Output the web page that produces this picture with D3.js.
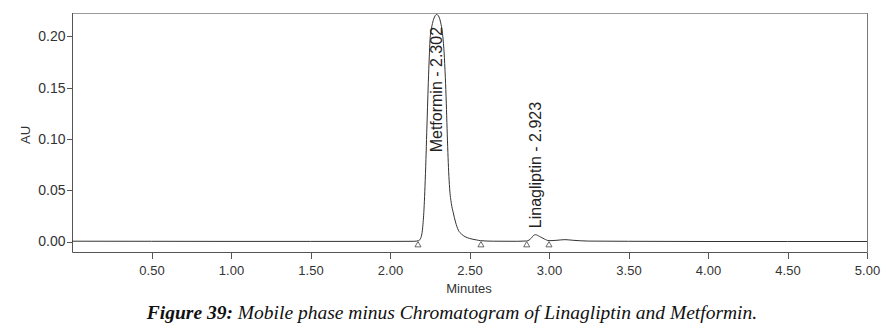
<!DOCTYPE html>
<html><head><meta charset="utf-8">
<script src="https://cdn.jsdelivr.net/npm/d3@7"></script>
<style>body{margin:0;background:#fff}svg{display:block}</style>
</head><body>
<svg id="c" width="890" height="332"></svg>
<script>
// ---- data ----
const traceTime = [0.00,0.50,1.00,1.50,2.00,2.15,2.18,2.195,2.206,2.215,2.220,2.226,2.231,2.236,2.241,2.247,2.252,2.260,2.269,2.280,2.293,2.305,2.318,2.330,2.340,2.348,2.354,2.359,2.364,2.369,2.375,2.386,2.398,2.412,2.430,2.450,2.472,2.500,2.545,2.570,2.650,2.800,2.860,2.890,2.905,2.915,2.940,2.970,3.000,3.050,3.100,3.150,3.250,3.500,4.000,4.500,5.000];
const traceAU   = [0.0003,0.0002,0.0001,0.0001,0.0001,0.0002,0.0008,0.004,0.0144,0.035,0.0535,0.080,0.106,0.131,0.155,0.180,0.197,0.207,0.214,0.219,0.2215,0.220,0.214,0.203,0.185,0.160,0.135,0.110,0.087,0.068,0.052,0.037,0.028,0.019,0.011,0.0072,0.0047,0.0030,0.0015,0.0008,0.0003,0.0002,0.0005,0.0035,0.0062,0.0066,0.005,0.0025,0.0008,0.0012,0.0018,0.0012,0.0004,0.0002,0.0000,0.0000,0.0000];
const peakMarkers = [2.176, 2.572, 2.860, 3.000];
const peakLabels = ["Metformin - 2.302", "Linagliptin - 2.923"];
const peakLabelTimes = [2.302, 2.923];
const peakLabelStartAU = [0.087, 0.013];
const xTicks = [0.5,1.0,1.5,2.0,2.5,3.0,3.5,4.0,4.5,5.0];
const xMinor = d3.range(0.1, 5.0001, 0.1);
const yTicks = [0.00,0.05,0.10,0.15,0.20];
const yMinor = d3.range(0, 0.2225, 0.01);
const xTitle = "Minutes";
const yTitle = "AU";
const captionBold = "Figure 39:";
const captionRest = " Mobile phase minus Chromatogram of Linagliptin and Metformin.";

// ---- drawing ----
const svg = d3.select("#c");
const x = d3.scaleLinear().domain([0, 5]).range([72, 867]);
const y = d3.scaleLinear().domain([0, 0.2229]).range([241.5, 13]);
const axisY = 252.5, axisX = 72.5;

// frame
svg.append("line").attr("x1",72).attr("x2",867.5).attr("y1",13.5).attr("y2",13.5).attr("stroke","#9a9a9a");
svg.append("line").attr("x1",867.5).attr("x2",867.5).attr("y1",13).attr("y2",axisY).attr("stroke","#777");

// x axis
const gx = svg.append("g").attr("transform",`translate(0,${axisY})`);
gx.call(d3.axisBottom(x).tickValues(xMinor).tickSize(3).tickFormat(""))
  .call(g=>g.select(".domain").remove());
gx.call(d3.axisBottom(x).tickValues(xTicks).tickSize(6).tickFormat(d3.format(".2f")))
  .call(g=>g.selectAll(".domain").remove());
gx.selectAll("line").attr("stroke","#555").attr("shape-rendering","crispEdges");
gx.selectAll("text").attr("font-family","Liberation Sans, Arial, sans-serif").attr("font-size",13).attr("fill","#333").attr("dy","1.0em");
svg.append("line").attr("x1",axisX).attr("x2",867.5).attr("y1",axisY).attr("y2",axisY).attr("stroke","#555");

// y axis
const gy = svg.append("g").attr("transform",`translate(${axisX},0)`);
gy.call(d3.axisLeft(y).tickValues(yMinor).tickSize(3).tickFormat(""))
  .call(g=>g.select(".domain").remove());
gy.call(d3.axisLeft(y).tickValues(yTicks).tickSize(6).tickFormat(d3.format(".2f")))
  .call(g=>g.selectAll(".domain").remove());
gy.selectAll("line").attr("stroke","#555").attr("shape-rendering","crispEdges");
gy.selectAll("text").attr("font-family","Liberation Sans, Arial, sans-serif").attr("font-size",14).attr("fill","#333").attr("x",-7);
svg.append("line").attr("x1",axisX).attr("x2",axisX).attr("y1",13).attr("y2",axisY).attr("stroke","#555");

// titles
svg.append("text").attr("x",469).attr("y",293).attr("text-anchor","middle")
  .attr("font-family","Liberation Sans, Arial, sans-serif").attr("font-size",13).attr("fill","#333").text(xTitle);
svg.append("text").attr("transform","translate(30,135) rotate(-90)").attr("text-anchor","middle")
  .attr("font-family","Liberation Sans, Arial, sans-serif").attr("font-size",13).attr("fill","#333").text(yTitle);

// trace
const pts = traceTime.map((t,i)=>[t, traceAU[i]]);
svg.append("path").datum(pts)
  .attr("d", d3.line().x(d=>x(d[0])).y(d=>y(d[1])).curve(d3.curveMonotoneX))
  .attr("fill","none").attr("stroke","#333").attr("stroke-width",1);

// peak markers (open triangles)
const tri = d3.symbol().type(d3.symbolTriangle).size(16);
svg.selectAll(".mk").data(peakMarkers).join("path")
  .attr("d", tri).attr("transform", d=>`translate(${x(d)},${y(0)+3.6})`)
  .attr("fill","#fff").attr("stroke","#444").attr("stroke-width",0.8);

// peak labels
svg.selectAll(".pl").data(peakLabels).join("text")
  .attr("transform",(d,i)=>`translate(${x(peakLabelTimes[i])+4},${y(peakLabelStartAU[i])}) rotate(-90)`)
  .attr("font-family","Liberation Sans, Arial, sans-serif").attr("font-size",16).attr("fill","#222")
  .text(d=>d);

// caption
const cap = svg.append("text").attr("x",452).attr("y",319).attr("text-anchor","middle")
  .attr("font-family","Liberation Serif, Times New Roman, serif").attr("font-size",19.5).attr("font-style","italic").attr("fill","#111");
cap.append("tspan").attr("font-weight","bold").text(captionBold);
cap.append("tspan").text(captionRest);
</script>
</body></html>
